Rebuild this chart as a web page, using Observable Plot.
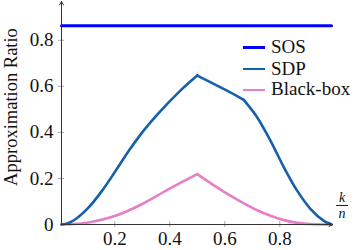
<!DOCTYPE html>
<html><head><meta charset="utf-8">
<script src="https://cdn.jsdelivr.net/npm/d3@7"></script>
<script src="https://cdn.jsdelivr.net/npm/@observablehq/plot@0.6"></script>
<style>
body{margin:0;background:#fff}
#wrap{position:relative;width:358px;height:250px;font-family:"Liberation Serif","Times New Roman",Tinos,"DejaVu Serif",serif;color:#111}
.leg{position:absolute;left:243px;font-size:19px;line-height:19px;white-space:nowrap}
.leg span.sw{display:inline-block;width:22px;height:0;border-top-style:solid;vertical-align:middle;margin-right:6px;position:relative;top:-1px}
#kn{position:absolute;left:334px;top:191px;width:16px;text-align:center;font-style:italic;font-size:14px;line-height:13px}
#kn .bar{border-top:1px solid #222;margin:1px 2px 1px 2px}
</style>
</head><body><div id="wrap"></div>
<script>
const seriesNames = ["SOS", "SDP", "Black-box"];
const seriesColors = ["#0000ff", "#1560a8", "#e67fc8"];
const seriesWidths = [3, 2.6, 2.6];
const xDomain = [0.0062, 0.988];
const yDomain = [0, 0.964];
const xTicks = [0.2, 0.4, 0.6, 0.8];
const yTicks = [0, 0.2, 0.4, 0.6, 0.8];
const yLabel = "Approximation Ratio";

const sosK = [0.0062, 0.988];
const sosV = [0.863, 0.863];

const sdpK = [0.0062, 0.03, 0.057, 0.105, 0.154, 0.203, 0.251, 0.3, 0.348, 0.396, 0.445, 0.5, 0.518, 0.572, 0.62, 0.669, 0.718, 0.766, 0.815, 0.863, 0.912, 0.96, 0.988];
const sdpV = [0, 0.006, 0.023, 0.074, 0.147, 0.233, 0.32, 0.40, 0.468, 0.53, 0.589, 0.647, 0.636, 0.603, 0.574, 0.541, 0.465, 0.364, 0.248, 0.147, 0.067, 0.016, 0];
const sdpBreaks = [0.5, 0.669];

const bbK = [0.0062, 0.105, 0.203, 0.3, 0.396, 0.5, 0.572, 0.62, 0.669, 0.718, 0.766, 0.815, 0.863, 0.912, 0.988];
const bbV = [0, 0.009, 0.038, 0.089, 0.154, 0.219, 0.161, 0.125, 0.092, 0.062, 0.038, 0.019, 0.007, 0.002, 0];
const bbBreaks = [0.5];

function segRows(k, v, breaks) {
  const rows = [];
  k.forEach((kk, i) => {
    const seg = breaks.filter(b => kk > b).length;
    rows.push({k: kk, v: v[i], seg});
    if (breaks.includes(kk)) rows.push({k: kk, v: v[i], seg: seg + 1});
  });
  return rows;
}
const sosRows = sosK.map((k, i) => ({k, v: sosV[i]}));
const sdpRows = segRows(sdpK, sdpV, sdpBreaks);
const bbRows = segRows(bbK, bbV, bbBreaks);

const fmt = d => d === 0 ? "0" : d.toFixed(1);
const serif = "'Liberation Serif', 'Times New Roman', Tinos, 'DejaVu Serif', serif";

const chart = Plot.plot({
  width: 358, height: 250,
  marginLeft: 61, marginRight: 27, marginTop: 2, marginBottom: 26,
  x: {domain: xDomain},
  y: {domain: yDomain},
  style: {fontFamily: serif, fontSize: "19px", background: "white", color: "#111", overflow: "visible"},
  marks: [
    Plot.axisY({ticks: yTicks.filter(d => d > 0), tickSize: 6, dx: 3, tickFormat: () => "", stroke: "#aaa", label: null}),
    Plot.axisY({ticks: yTicks, tickSize: 0, tickPadding: 8, tickFormat: fmt, label: null, fill: "#111"}),
    Plot.axisX({ticks: xTicks, tickSize: 6, dy: -3, tickFormat: () => "", stroke: "#aaa", label: null}),
    Plot.axisX({ticks: xTicks, tickSize: 0, tickPadding: 7, tickFormat: fmt, label: null, fill: "#111"}),
    Plot.text([yLabel], {frameAnchor: "left", textAnchor: "middle", dx: -50, dy: -6.5, rotate: -90, fontSize: 18.5, fill: "#111"}),
    Plot.line(bbRows, {x: "k", y: "v", z: "seg", stroke: seriesColors[2], strokeWidth: seriesWidths[2], curve: "catmull-rom"}),
    Plot.line(sdpRows, {x: "k", y: "v", z: "seg", stroke: seriesColors[1], strokeWidth: seriesWidths[1], curve: "catmull-rom"}),
    Plot.line(sosRows, {x: "k", y: "v", stroke: seriesColors[0], strokeWidth: seriesWidths[0]}),
    Plot.arrow([0], {x1: xDomain[0], x2: xDomain[0], y1: yDomain[0], y2: yDomain[1], stroke: "#333", strokeWidth: 1, headLength: 6, insetEnd: -1}),
    Plot.arrow([0], {x1: xDomain[0], x2: xDomain[1], y1: yDomain[0], y2: yDomain[0], stroke: "#333", strokeWidth: 1, headLength: 6, insetEnd: -1})
  ]
});
const wrap = document.getElementById("wrap");
wrap.appendChild(chart);

const legTops = [37, 58.5, 79];
seriesNames.forEach((name, i) => {
  const d = document.createElement("div");
  d.className = "leg";
  d.style.top = legTops[i] + "px";
  const sw = document.createElement("span");
  sw.className = "sw";
  sw.style.borderTopColor = seriesColors[i];
  sw.style.borderTopWidth = seriesWidths[i] + "px";
  d.appendChild(sw);
  d.appendChild(document.createTextNode(name));
  wrap.appendChild(d);
});
const kn = document.createElement("div");
kn.id = "kn";
kn.innerHTML = "<div>k</div><div class='bar'></div><div>n</div>";
wrap.appendChild(kn);
</script>
</body></html>
